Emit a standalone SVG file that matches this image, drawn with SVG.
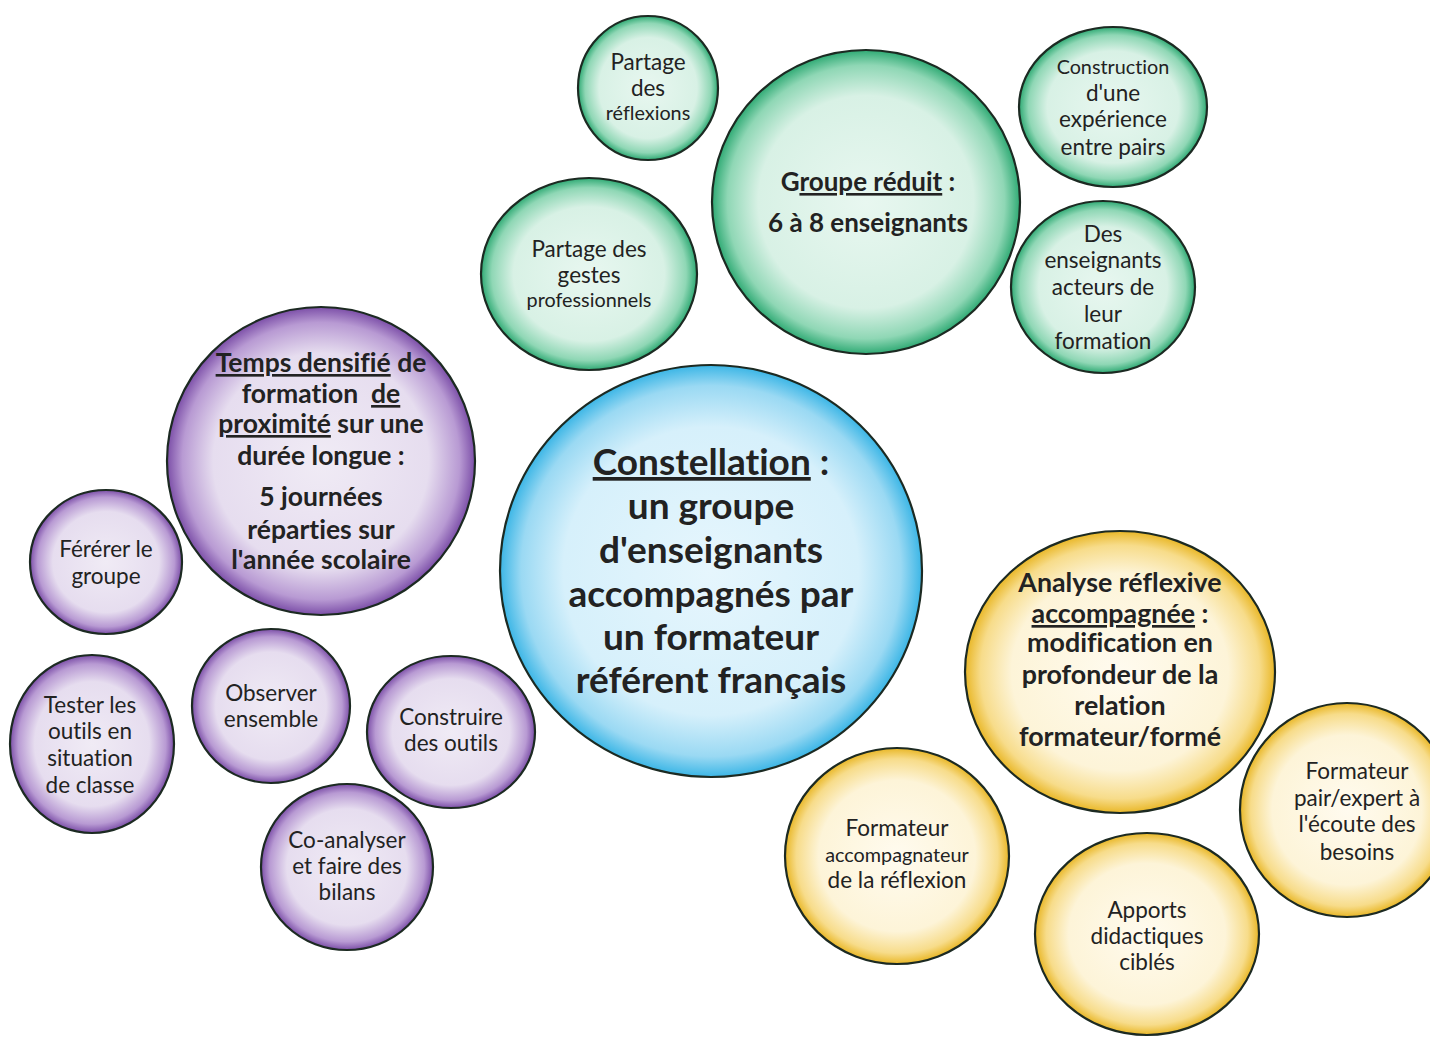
<svg xmlns="http://www.w3.org/2000/svg" width="1430" height="1037" viewBox="0 0 1430 1037">
<style>
text{font-family:Lato,"Open Sans","Liberation Sans",sans-serif;fill:#222;text-anchor:middle;font-variant-ligatures:none}
.s{font-size:22.5px}
.xs{font-size:19.8px}
.b{font-weight:bold}
.u{text-decoration:underline}
.bubble{stroke:#1c2a22;stroke-width:2.2}
</style>
<defs>
<radialGradient id="gBlue" cx="0.5" cy="0.5" r="0.5">
<stop offset="0" stop-color="#e6f6fd"/><stop offset="0.7" stop-color="#d6f0fb"/><stop offset="0.9" stop-color="#9ad9f3"/><stop offset="1" stop-color="#3cb6e6"/>
</radialGradient>
<radialGradient id="gGreen" cx="0.5" cy="0.5" r="0.5">
<stop offset="0" stop-color="#e8f7f0"/><stop offset="0.7" stop-color="#d8f1e5"/><stop offset="0.9" stop-color="#8fd7b5"/><stop offset="1" stop-color="#2faa74"/>
</radialGradient>
<radialGradient id="gPurple" cx="0.5" cy="0.5" r="0.5">
<stop offset="0" stop-color="#f0ebf5"/><stop offset="0.7" stop-color="#e6ddef"/><stop offset="0.9" stop-color="#b89ad3"/><stop offset="1" stop-color="#7c4fa8"/>
</radialGradient>
<radialGradient id="gYellow" cx="0.5" cy="0.5" r="0.5">
<stop offset="0" stop-color="#fffbef"/><stop offset="0.7" stop-color="#fdf4d8"/><stop offset="0.9" stop-color="#f7dc8a"/><stop offset="1" stop-color="#e9b727"/>
</radialGradient>
</defs>
<rect width="1430" height="1037" fill="#ffffff"/>
<g id="connectors"/>

<g id="n-center">
<ellipse class="bubble" cx="711" cy="571" rx="211" ry="206" fill="url(#gBlue)"/>
<text class="b" font-size="37"><tspan x="711" y="475"><tspan class="u">Constellation</tspan> :</tspan><tspan x="711" y="519">un groupe</tspan><tspan x="711" y="563">d'enseignants</tspan><tspan x="711" y="607">accompagnés par</tspan><tspan x="711" y="650">un formateur</tspan><tspan x="711" y="693">référent français</tspan></text>
</g>

<g id="n-groupe">
<ellipse class="bubble" cx="866" cy="202" rx="154" ry="152" fill="url(#gGreen)"/>
<text class="b" font-size="26"><tspan x="868" y="191">G<tspan class="u">roupe réduit</tspan> :</tspan><tspan x="868" y="232">6 à 8 enseignants</tspan></text>
</g>
<g id="n-partage-reflexions">
<ellipse class="bubble" cx="648" cy="88" rx="70" ry="72" fill="url(#gGreen)"/>
<text class="s"><tspan x="648" y="70">Partage</tspan><tspan x="648" y="96">des</tspan><tspan x="648" y="120" class="xs">réflexions</tspan></text>
</g>
<g id="n-partage-gestes">
<ellipse class="bubble" cx="589" cy="274" rx="108" ry="96" fill="url(#gGreen)"/>
<text class="s"><tspan x="589" y="257">Partage des</tspan><tspan x="589" y="283">gestes</tspan><tspan x="589" y="307" class="xs">professionnels</tspan></text>
</g>
<g id="n-construction">
<ellipse class="bubble" cx="1113" cy="107" rx="94" ry="80" fill="url(#gGreen)"/>
<text class="s"><tspan x="1113" y="74" class="xs">Construction</tspan><tspan x="1113" y="101">d'une</tspan><tspan x="1113" y="127">expérience</tspan><tspan x="1113" y="155">entre pairs</tspan></text>
</g>
<g id="n-acteurs">
<ellipse class="bubble" cx="1103" cy="287" rx="92" ry="86" fill="url(#gGreen)"/>
<text class="s"><tspan x="1103" y="242">Des</tspan><tspan x="1103" y="268">enseignants</tspan><tspan x="1103" y="295">acteurs de</tspan><tspan x="1103" y="322">leur</tspan><tspan x="1103" y="349">formation</tspan></text>
</g>

<g id="n-temps">
<ellipse class="bubble" cx="321" cy="461" rx="154" ry="154" fill="url(#gPurple)"/>
<text class="b" font-size="26.5" xml:space="preserve"><tspan x="321" y="372"><tspan class="u">Temps densifié</tspan> de</tspan><tspan x="321" y="403">formation  <tspan class="u">de</tspan></tspan><tspan x="321" y="433"><tspan class="u">proximité</tspan> sur une</tspan><tspan x="321" y="465">durée longue :</tspan><tspan x="321" y="506">5 journées</tspan><tspan x="321" y="539">réparties sur</tspan><tspan x="321" y="569">l'année scolaire</tspan></text>
</g>
<g id="n-fererer">
<ellipse class="bubble" cx="106" cy="562" rx="76" ry="72" fill="url(#gPurple)"/>
<text class="s"><tspan x="106" y="557">Férérer le</tspan><tspan x="106" y="584">groupe</tspan></text>
</g>
<g id="n-tester">
<ellipse class="bubble" cx="92" cy="744" rx="82" ry="89" fill="url(#gPurple)"/>
<text class="s"><tspan x="90" y="713">Tester les</tspan><tspan x="90" y="739">outils en</tspan><tspan x="90" y="766">situation</tspan><tspan x="90" y="793">de classe</tspan></text>
</g>
<g id="n-observer">
<ellipse class="bubble" cx="271" cy="706" rx="79" ry="77" fill="url(#gPurple)"/>
<text class="s"><tspan x="271" y="701">Observer</tspan><tspan x="271" y="727">ensemble</tspan></text>
</g>
<g id="n-construire">
<ellipse class="bubble" cx="451" cy="732" rx="84" ry="76" fill="url(#gPurple)"/>
<text class="s"><tspan x="451" y="725">Construire</tspan><tspan x="451" y="751">des outils</tspan></text>
</g>
<g id="n-coanalyser">
<ellipse class="bubble" cx="347" cy="867" rx="86" ry="83" fill="url(#gPurple)"/>
<text class="s"><tspan x="347" y="848">Co-analyser</tspan><tspan x="347" y="874">et faire des</tspan><tspan x="347" y="900">bilans</tspan></text>
</g>

<g id="n-analyse">
<ellipse class="bubble" cx="1120" cy="672" rx="155" ry="141" fill="url(#gYellow)"/>
<text class="b" font-size="26.8"><tspan x="1120" y="592">Analyse réflexive</tspan><tspan x="1120" y="623"><tspan class="u">accompagnée</tspan> :</tspan><tspan x="1120" y="652">modification en</tspan><tspan x="1120" y="684">profondeur de la</tspan><tspan x="1120" y="715">relation</tspan><tspan x="1120" y="746">formateur/formé</tspan></text>
</g>
<g id="n-accompagnateur">
<ellipse class="bubble" cx="897" cy="856" rx="112" ry="108" fill="url(#gYellow)"/>
<text class="s"><tspan x="897" y="836">Formateur</tspan><tspan x="897" y="862" class="xs">accompagnateur</tspan><tspan x="897" y="888">de la réflexion</tspan></text>
</g>
<g id="n-pair">
<ellipse class="bubble" cx="1347" cy="810" rx="107" ry="107" fill="url(#gYellow)"/>
<text class="s"><tspan x="1357" y="779">Formateur</tspan><tspan x="1357" y="806">pair/expert à</tspan><tspan x="1357" y="832">l'écoute des</tspan><tspan x="1357" y="860">besoins</tspan></text>
</g>
<g id="n-apports">
<ellipse class="bubble" cx="1147" cy="934" rx="112" ry="101" fill="url(#gYellow)"/>
<text class="s"><tspan x="1147" y="918">Apports</tspan><tspan x="1147" y="944">didactiques</tspan><tspan x="1147" y="970">ciblés</tspan></text>
</g>
</svg>
